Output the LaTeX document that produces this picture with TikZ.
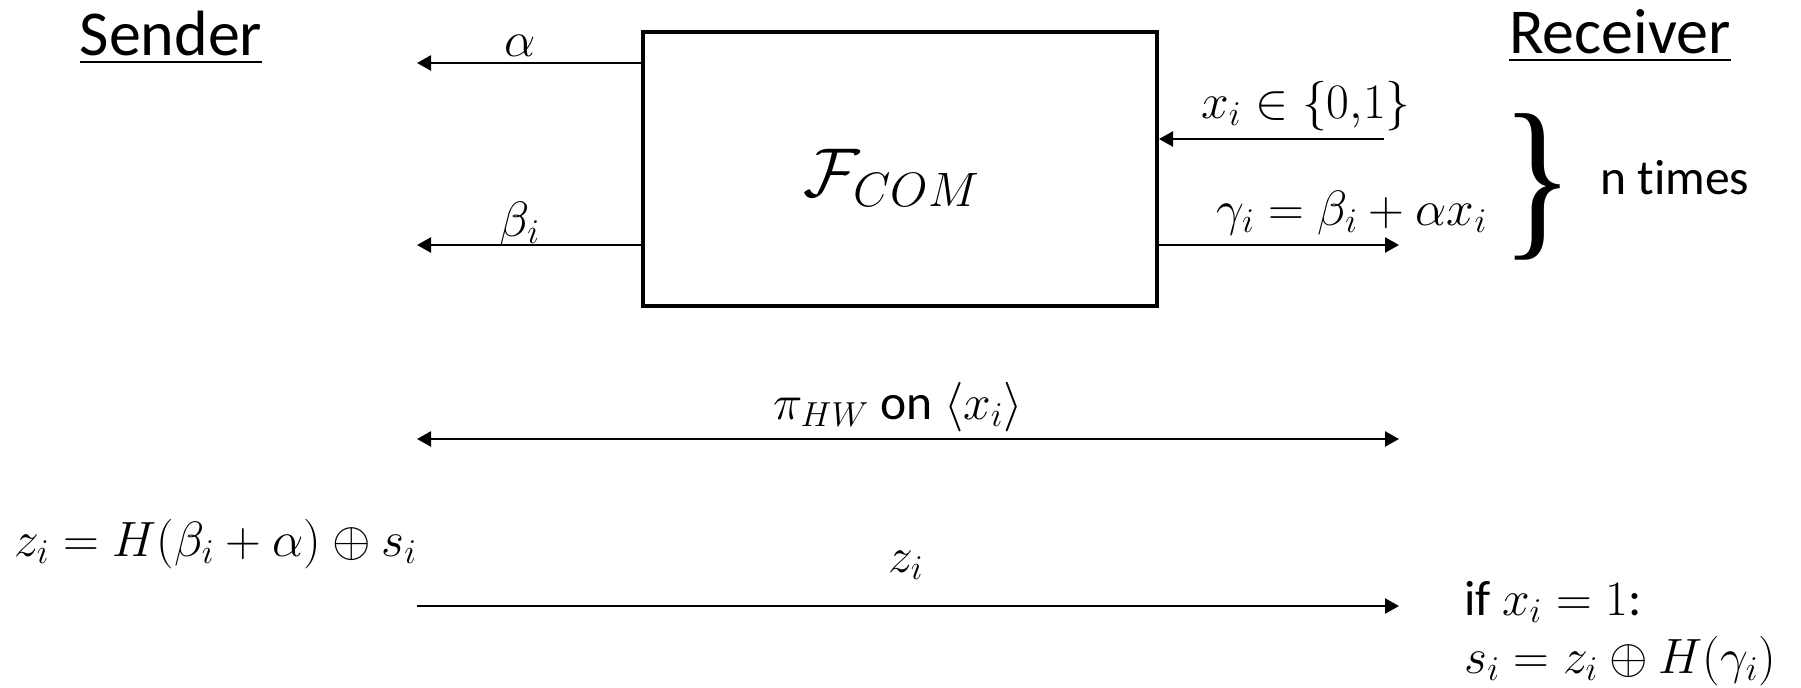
\RequirePackage{fix-cm}
\documentclass[tikz,border=0pt]{standalone}
\usepackage{amsmath}
\usepackage{fontspec}
\setmainfont{Carlito}[Ligatures=NoCommon]
\newfontfamily\bracefont{Liberation Serif}
\usetikzlibrary{arrows.meta}
\tikzset{
  lbl/.style={inner sep=0pt, font=\fontsize{24.8}{28}\selectfont},
  ttl/.style={inner sep=0pt, font=\fontsize{32}{36}\selectfont},
  arr/.style={line width=1.25pt, -{Triangle[length=7pt,width=7.5pt]}},
  arrb/.style={line width=1.25pt, {Triangle[length=7pt,width=7.5pt]}-{Triangle[length=7pt,width=7.5pt]}},
  boxst/.style={draw, line width=2pt, minimum width=257pt, minimum height=137pt, inner sep=0pt}
}
\begin{document}
\begin{tikzpicture}[x=0.5pt,y=-0.5pt]
\useasboundingbox (0,0) rectangle (1801,687);
% titles
\node[ttl, anchor=base] (sender) at (171,55) {\underline{Sender}};
\node[ttl, anchor=base] (receiver) at (1620,53) {\underline{Receiver}};
% functionality box
\node[boxst] (F) at (900,169) {};
\node[inner sep=0pt, font=\fontsize{34.5}{38}\selectfont] (fcom) at (892,178) {$\mathcal{F}_{COM}$};
% coordinates
\coordinate (aL) at (417,63);
\coordinate (bL) at (417,245);
\coordinate (xR) at (1384,139);
\coordinate (gR) at (1399,245);
\coordinate (pL) at (417,439);
\coordinate (pR) at (1399,439);
\coordinate (zL) at (417,606);
\coordinate (zR) at (1399,606);
% arrows
\draw[arr] (F.west |- aL) -- (aL);
\draw[arr] (F.west |- bL) -- (bL);
\draw[arr] (xR) -- (F.east |- xR);
\draw[arr] (F.east |- gR) -- (gR);
\draw[arrb] (pL) -- (pR);
\draw[arr] (zL) -- (zR);
% labels
\node[lbl, anchor=base] (alab) at (520,56) {$\alpha$};
\node[lbl, anchor=base] (blab) at (520,236) {$\beta_i$};
\node[lbl, anchor=base] (xlab) at (1306,118) {$x_i \in \{0{,}1\}$};
\node[lbl, anchor=base] (glab) at (1352,225) {$\gamma_i = \beta_i + \alpha x_i$};
\node[inner sep=0pt, font=\bracefont\fontsize{82}{84}\selectfont, xscale=0.92, yscale=1.08] (brace) at (1538,187) {\}};
\node[lbl, anchor=west] (ntimes) at (1600,178) {n times};
\node[lbl, anchor=base] (plab) at (898,419) {$\pi_{HW}$ on $\langle x_i\rangle$};
\node[lbl, anchor=base west] (zdef) at (14,556) {$z_i = H(\beta_i + \alpha) \oplus s_i$};
\node[lbl, anchor=base] (zlab) at (906,572) {$z_i$};
\node[lbl, anchor=base west] (iflab) at (1464,615) {if $x_i = 1$:};
\node[lbl, anchor=base west] (slab) at (1464,673) {$s_i = z_i \oplus H(\gamma_i)$};
\end{tikzpicture}
\end{document}
